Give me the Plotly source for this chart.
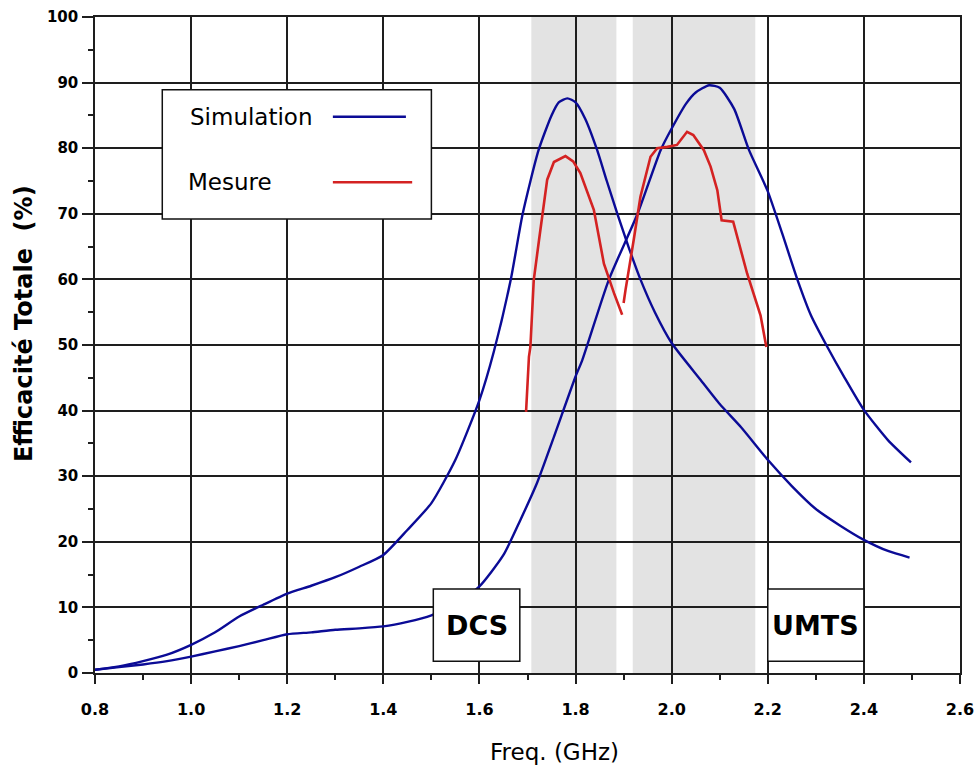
import plotly.graph_objects as go

# ---- data ----
sim_dcs_f = [0.80, 0.85, 0.90, 0.95, 1.00, 1.05, 1.10, 1.15, 1.20, 1.25, 1.30, 1.35, 1.40, 1.45,
             1.50, 1.55, 1.60, 1.63, 1.665, 1.69, 1.723, 1.75, 1.765, 1.783, 1.80, 1.82, 1.845,
             1.865, 1.887, 1.91, 1.935, 1.965, 2.00, 2.06, 2.10, 2.144, 2.20, 2.25, 2.30, 2.35,
             2.40, 2.45, 2.495]
sim_dcs_v = [0.5, 1.0, 1.8, 2.8, 4.3, 6.2, 8.6, 10.4, 12.1, 13.3, 14.6, 16.2, 18.0, 21.8,
             25.9, 32.5, 41.6, 49.0, 59.9, 70.0, 79.7, 85.0, 87.0, 87.6, 87.0, 84.5, 79.7,
             75.0, 70.0, 65.0, 60.0, 55.0, 50.3, 44.7, 41.0, 37.5, 32.5, 28.5, 25.0, 22.5,
             20.3, 18.6, 17.6]

sim_umts_f = [0.80, 0.85, 0.90, 0.95, 1.00, 1.05, 1.10, 1.15, 1.20, 1.25, 1.30, 1.35, 1.40, 1.45,
              1.50, 1.55, 1.60, 1.65, 1.685, 1.72, 1.755, 1.80, 1.814, 1.869, 1.929, 1.977, 2.00,
              2.03, 2.05, 2.078, 2.10, 2.13, 2.161, 2.199, 2.23, 2.262, 2.29, 2.324, 2.36, 2.40,
              2.45, 2.498]
sim_umts_v = [0.5, 0.9, 1.3, 1.8, 2.5, 3.3, 4.1, 5.0, 5.9, 6.2, 6.6, 6.8, 7.1, 7.8,
              8.8, 10.5, 13.2, 18.0, 23.3, 29.0, 36.0, 45.2, 47.7, 59.9, 70.0, 79.7, 83.0,
              86.8, 88.5, 89.6, 89.2, 86.0, 79.7, 73.6, 67.0, 59.9, 54.5, 49.7, 45.0, 40.1,
              35.5, 32.1]

mes_f = [1.697, 1.700, 1.703, 1.706, 1.713, 1.724, 1.741, 1.755, 1.779, 1.795, 1.81, 1.838,
         1.859, 1.88, 1.897, None,
         1.900, 1.904, 1.921, 1.935, 1.956, 1.97, 1.991, 2.011, 2.032, 2.045, 2.067, 2.081,
         2.095, 2.104, 2.128, 2.157, 2.185, 2.197]
mes_v = [39.8, 44.0, 48.2, 49.7, 59.9, 66.0, 75.2, 77.9, 78.8, 78.0, 76.2, 70.6,
         62.4, 57.9, 54.6, None,
         56.4, 58.4, 66.0, 72.6, 78.7, 80.0, 80.2, 80.5, 82.5, 82.0, 79.7, 77.2,
         73.6, 69.0, 68.8, 60.9, 54.5, 49.7]

x_ticks = [0.8, 1.0, 1.2, 1.4, 1.6, 1.8, 2.0, 2.2, 2.4, 2.6]
y_ticks = [0, 10, 20, 30, 40, 50, 60, 70, 80, 90, 100]
bands = [(1.708, 1.885), (1.919, 2.174)]
band_labels = [("DCS", 1.504, 1.684), ("UMTS", 2.2, 2.4)]
legend_names = ["Simulation", "Mesure"]

BLUE = "#0b0b96"
RED = "#d42222"
GRID = "#1e1e1e"

fig = go.Figure()
fig.add_trace(go.Scatter(x=sim_dcs_f, y=sim_dcs_v, mode="lines",
                         line=dict(color=BLUE, width=2.4, shape="spline", smoothing=0.6),
                         showlegend=False))
fig.add_trace(go.Scatter(x=sim_umts_f, y=sim_umts_v, mode="lines",
                         line=dict(color=BLUE, width=2.4, shape="spline", smoothing=0.6),
                         showlegend=False))
fig.add_trace(go.Scatter(x=mes_f, y=mes_v, mode="lines", connectgaps=False,
                         line=dict(color=RED, width=2.6), showlegend=False))

shapes = []
for a, b in bands:
    shapes.append(dict(type="rect", xref="x", yref="y", x0=a, x1=b, y0=0, y1=100,
                       fillcolor="#e3e3e3", line=dict(width=0), layer="below"))

annotations = []
for name, a, b in band_labels:
    shapes.append(dict(type="rect", xref="x", yref="y", x0=a, x1=b, y0=1.8, y1=12.8,
                       fillcolor="white", line=dict(color="#111", width=1.5), layer="above"))
    annotations.append(dict(x=(a + b) / 2, y=7.3, xref="x", yref="y", text=name,
                            showarrow=False, xanchor="center", yanchor="middle",
                            font=dict(family="DejaVu Sans", size=27, color="black", weight="bold")))

# legend box (text then line sample)
shapes.append(dict(type="rect", xref="x", yref="y", x0=0.94, x1=1.50, y0=69.2, y1=88.9,
                   fillcolor="white", line=dict(color="#111", width=1.5), layer="above"))
shapes.append(dict(type="line", xref="x", yref="y", x0=1.295, x1=1.447, y0=84.8, y1=84.8,
                   line=dict(color=BLUE, width=2.4), layer="above"))
shapes.append(dict(type="line", xref="x", yref="y", x0=1.295, x1=1.460, y0=74.8, y1=74.8,
                   line=dict(color=RED, width=2.6), layer="above"))
annotations.append(dict(x=0.993, y=84.8, xref="x", yref="y", text=legend_names[0],
                        showarrow=False, xanchor="left", yanchor="middle",
                        font=dict(family="DejaVu Sans", size=23, color="black")))
annotations.append(dict(x=0.99, y=74.9, xref="x", yref="y", text=legend_names[1],
                        showarrow=False, xanchor="left", yanchor="middle",
                        font=dict(family="DejaVu Sans", size=23, color="black")))

# axis titles
annotations.append(dict(x=0.531, y=-0.12, xref="paper", yref="paper", text="Freq. (GHz)",
                        showarrow=False, xanchor="center", yanchor="middle",
                        font=dict(family="DejaVu Sans", size=23, color="black")))
annotations.append(dict(x=-0.082, y=0.532, xref="paper", yref="paper",
                        text="Efficacité Totale  (%)", textangle=-90,
                        showarrow=False, xanchor="center", yanchor="middle",
                        font=dict(family="DejaVu Sans", size=24, color="black", weight="bold")))

fig.update_layout(
    width=977, height=767,
    margin=dict(l=95, r=17, t=17, b=94, autoexpand=False),
    paper_bgcolor="white", plot_bgcolor="white",
    shapes=shapes, annotations=annotations,
    showlegend=False,
)
fig.update_xaxes(
    range=[0.8, 2.6], tickvals=x_ticks, ticktext=[f"{v:.1f}" for v in x_ticks],
    automargin=False,
    showgrid=True, gridcolor=GRID, gridwidth=1.5,
    showline=True, linecolor=GRID, linewidth=1.5, mirror=True,
    ticks="outside", ticklen=9, tickwidth=1.5, tickcolor=GRID,
    ticklabelstandoff=12,
    minor=dict(dtick=0.1, tick0=0.8, ticks="outside", ticklen=5, tickwidth=1.5,
               tickcolor=GRID, showgrid=False),
    tickfont=dict(family="DejaVu Sans", size=16, color="black", weight="bold"),
    zeroline=False,
)
fig.update_yaxes(
    range=[0, 100], tickvals=y_ticks, ticktext=[str(v) for v in y_ticks],
    automargin=False,
    showgrid=True, gridcolor=GRID, gridwidth=1.5,
    showline=True, linecolor=GRID, linewidth=1.5, mirror=True,
    ticks="outside", ticklen=11, tickwidth=1.5, tickcolor=GRID,
    ticklabelstandoff=1,
    minor=dict(dtick=5, tick0=0, ticks="outside", ticklen=5, tickwidth=1.5,
               tickcolor=GRID, showgrid=False),
    tickfont=dict(family="DejaVu Sans", size=15, color="black", weight="bold"),
    zeroline=False,
)

fig.write_html("out.html", config={"displayModeBar": False},
               post_script="document.body.style.margin='0px';document.body.style.overflow='hidden';")
